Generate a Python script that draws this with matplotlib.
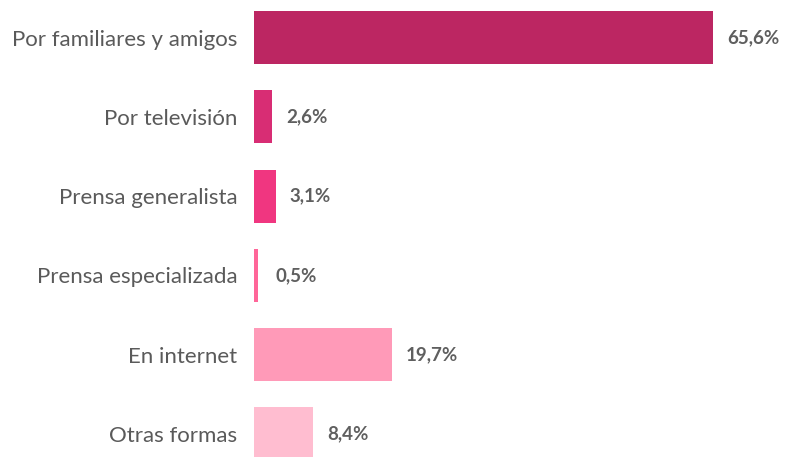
import matplotlib
matplotlib.use("Agg")
import matplotlib.pyplot as plt

categories = ["Por familiares y amigos", "Por televisión", "Prensa generalista",
              "Prensa especializada", "En internet", "Otras formas"]
values = [65.6, 2.6, 3.1, 0.5, 19.7, 8.4]
colors = ["#BC2662", "#D82D74", "#F03680", "#FF6699", "#FF9AB8", "#FFBDD0"]

plt.rcParams['font.family'] = ['Lato', 'DejaVu Sans']

fig = plt.figure(figsize=(7.87, 4.57), dpi=100)
ax = fig.add_axes([254/787, 0, 533/787, 1])
y = list(range(len(categories)))
ax.barh(y, values, height=0.67, color=colors)
ax.set_xlim(0, 533/7.0)
ax.set_ylim(5.29, -0.473)
ax.set_yticks(y)
ax.set_yticklabels(categories, fontsize=16, color="#5a5a5a")
ax.tick_params(axis='y', length=0, pad=12)
ax.set_xticks([])
for s in ax.spines.values():
    s.set_visible(False)
for i, v in enumerate(values):
    ax.text(max(v, 1.0) + 2.0, i, f"{v:.1f}%".replace(".", ","), va="center", ha="left",
            fontsize=13.5, fontweight="bold", color="#5f5f5f")
fig.savefig("out.png", dpi=100)
